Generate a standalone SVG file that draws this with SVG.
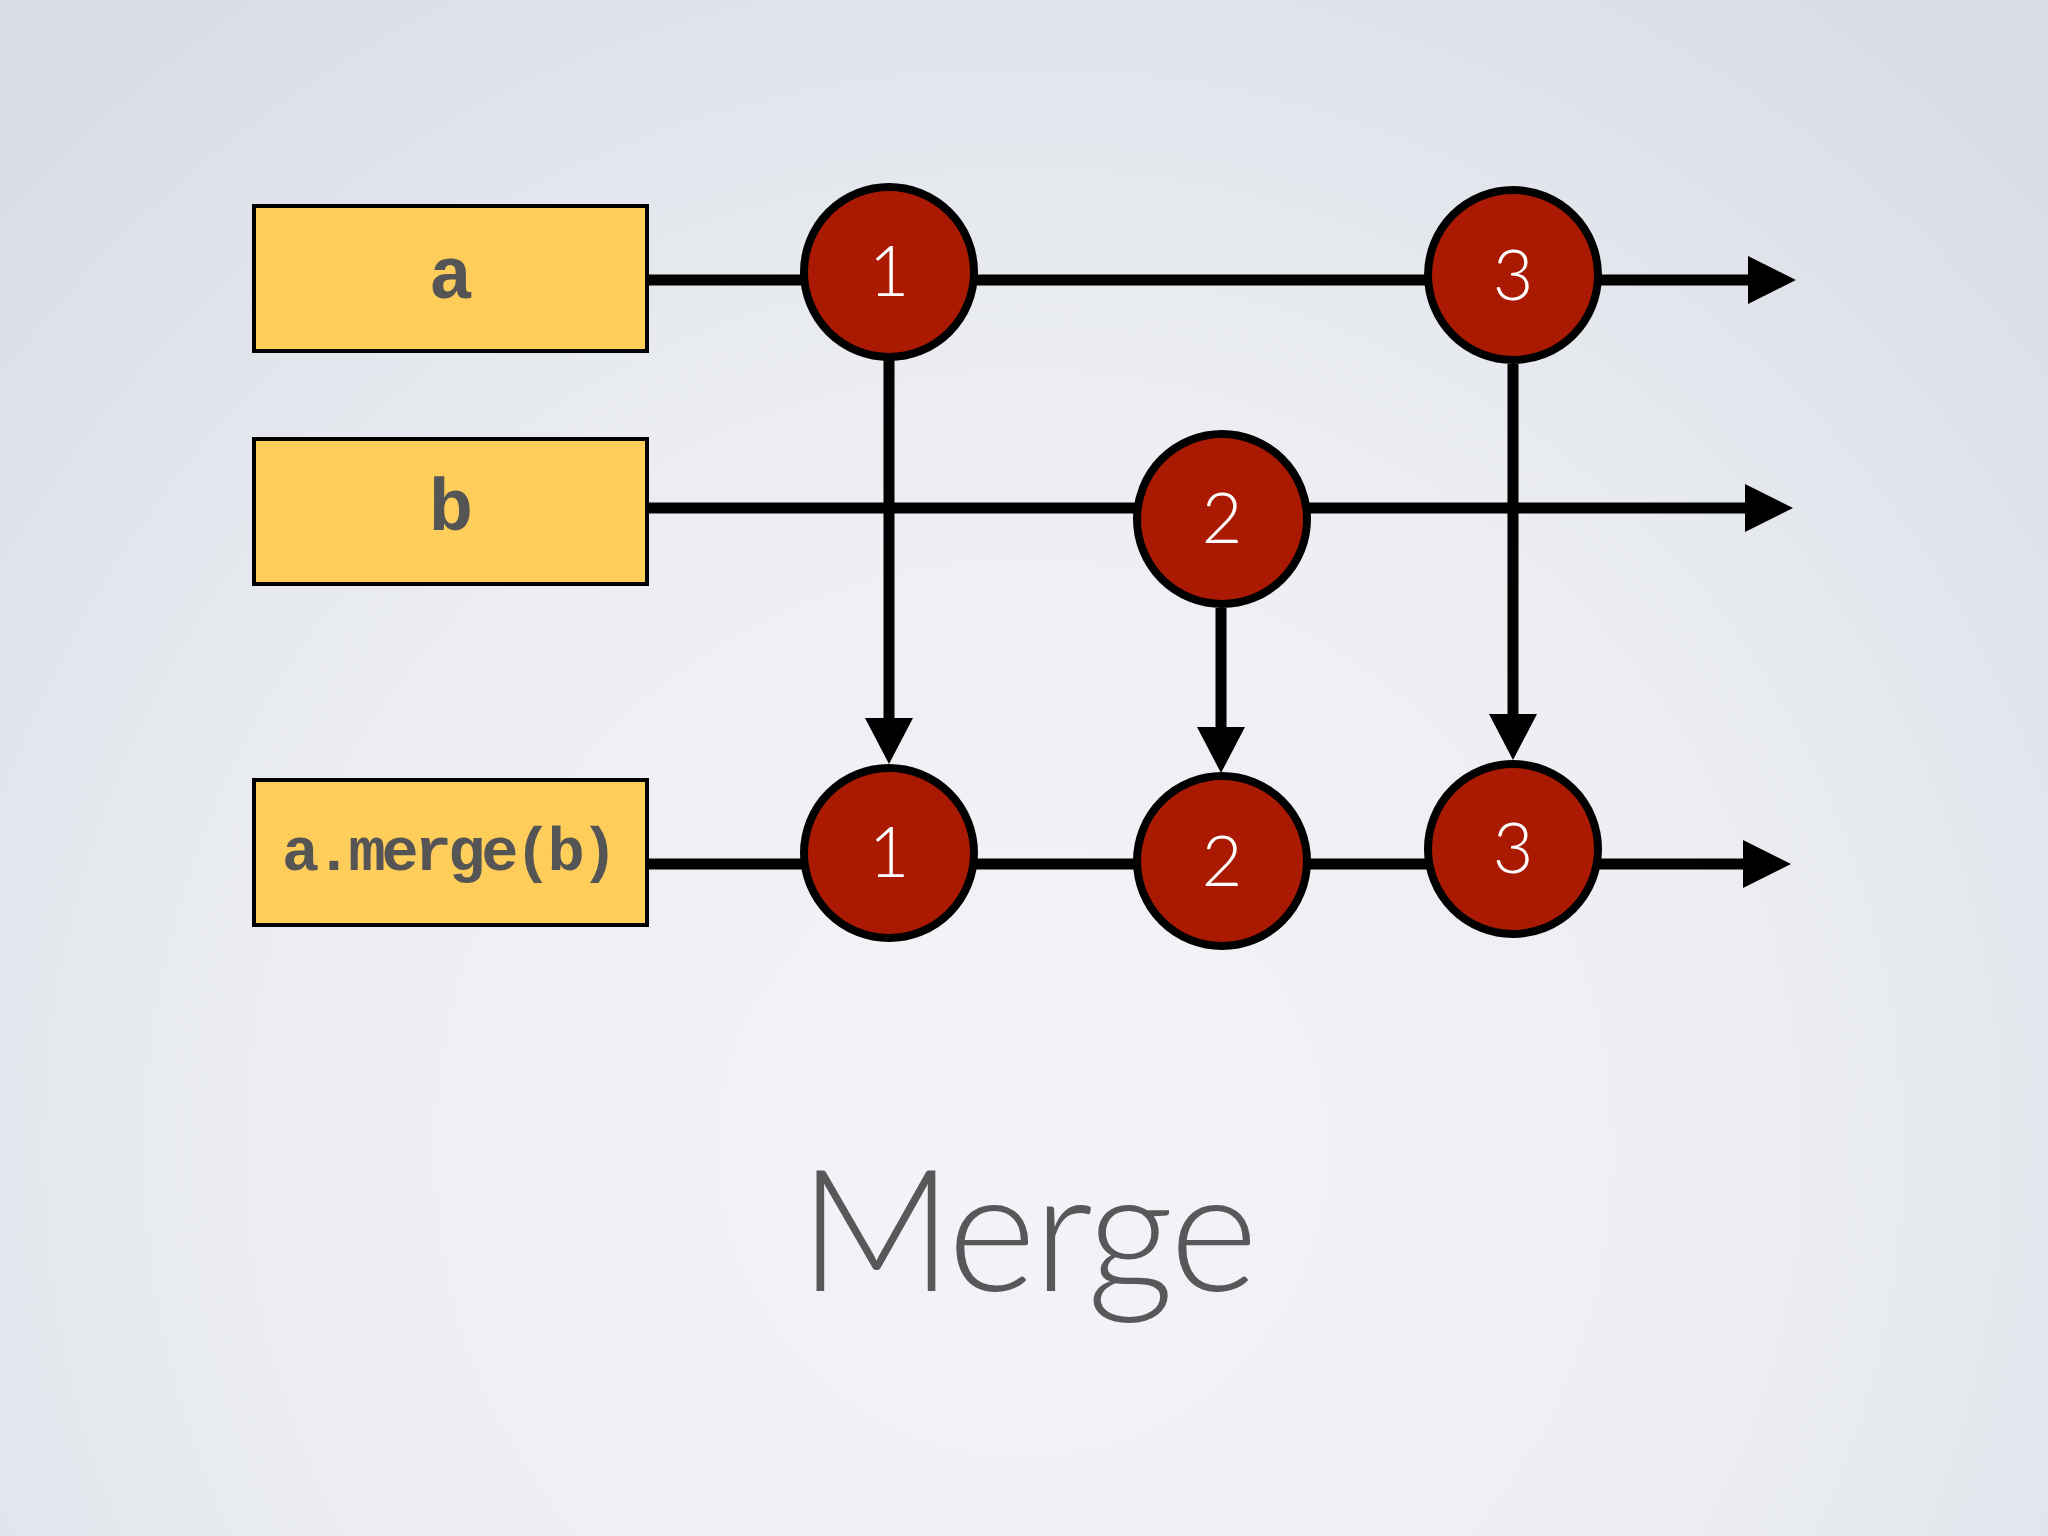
<svg xmlns="http://www.w3.org/2000/svg" width="2048" height="1536" viewBox="0 0 2048 1536">
<defs>
<radialGradient id="bg" cx="1024" cy="1150" r="1450" gradientUnits="userSpaceOnUse">
<stop offset="0" stop-color="#f4f4f8"/>
<stop offset="0.5" stop-color="#eceef3"/>
<stop offset="1" stop-color="#d8dce4"/>
</radialGradient>
<marker id="ah" markerUnits="userSpaceOnUse" viewBox="0 0 48 48" markerWidth="48" markerHeight="48" refX="28" refY="24" orient="auto">
<path d="M0,0 L48,24 L0,48 Z" fill="#000"/>
</marker>
<marker id="av" markerUnits="userSpaceOnUse" viewBox="0 0 48 48" markerWidth="48" markerHeight="48" refX="26" refY="24" orient="auto">
<path d="M0,0 L46,24 L0,48 Z" fill="#000"/>
</marker>
</defs>
<style>
.box{fill:#fecd5a;stroke:#000;stroke-width:4}
.lbl{font-family:"Liberation Mono","Courier New",monospace;font-weight:bold;fill:#555555;text-anchor:middle}
.ev{fill:#aa1a02;stroke:#000;stroke-width:8}
.num{font-family:Lato,"Open Sans",sans-serif;font-weight:300;font-size:70px;fill:#ffffff;text-anchor:middle}
.h{stroke:#000;stroke-width:11;fill:none;marker-end:url(#ah)}
.v{stroke:#000;stroke-width:11;fill:none;marker-end:url(#av)}
.title{font-family:Lato,"Open Sans",sans-serif;font-weight:300;font-size:170px;fill:#58585a;text-anchor:middle;letter-spacing:-3px}
</style>
<rect width="2048" height="1536" fill="url(#bg)"/>
<g id="connectors">
<path class="h" d="M649,280 H1776"/>
<path class="h" d="M649,508 H1773"/>
<path class="h" d="M649,864 H1771"/>
<path class="v" d="M889,360 V744"/>
<path class="v" d="M1221,608 V753"/>
<path class="v" d="M1513,364 V740"/>
</g>
<g id="box-a"><rect class="box" x="254" y="206" width="393" height="145"/><text class="lbl" x="451" y="298" font-size="74">a</text></g>
<g id="box-b"><rect class="box" x="254" y="439" width="393" height="145"/><text class="lbl" x="451" y="530" font-size="74">b</text></g>
<g id="box-merge"><rect class="box" x="254" y="780" width="393" height="145"/><text class="lbl" x="448" y="870" font-size="62" letter-spacing="-4">a.merge(b)</text></g>
<g id="a1"><circle class="ev" cx="889" cy="272" r="85"/><text class="num" x="889" y="296">1</text></g>
<g id="a3"><circle class="ev" cx="1513" cy="275" r="85"/><text class="num" x="1513" y="300">3</text></g>
<g id="b2"><circle class="ev" cx="1222" cy="519" r="85"/><text class="num" x="1222" y="543">2</text></g>
<g id="m1"><circle class="ev" cx="889" cy="853" r="85"/><text class="num" x="889" y="877">1</text></g>
<g id="m2"><circle class="ev" cx="1222" cy="861" r="85"/><text class="num" x="1222" y="886">2</text></g>
<g id="m3"><circle class="ev" cx="1513" cy="849" r="85"/><text class="num" x="1513" y="873">3</text></g>
<text class="title" x="1027" y="1291">Merge</text>
</svg>
